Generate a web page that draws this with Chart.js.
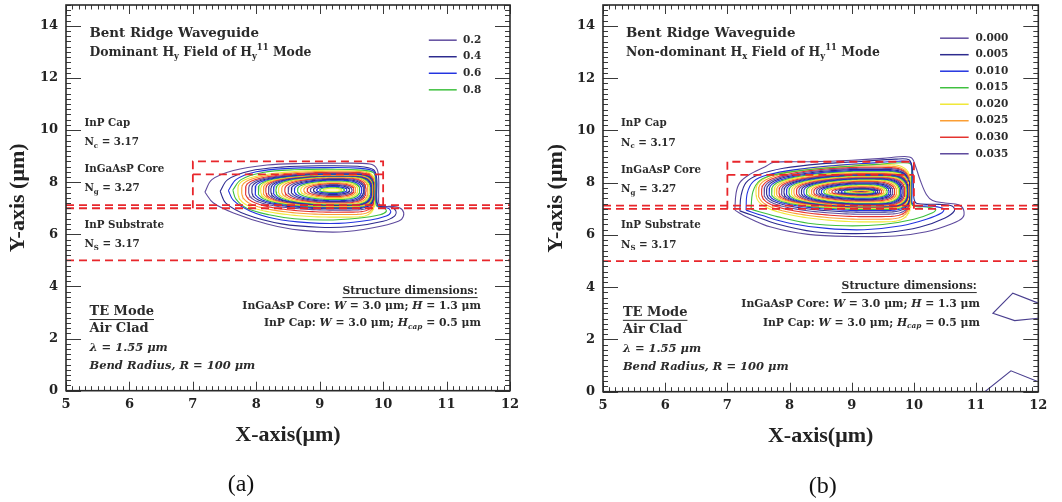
<!DOCTYPE html>
<html>
<head>
<meta charset="utf-8">
<script src="https://cdn.jsdelivr.net/npm/chart.js@4.4.1/dist/chart.umd.min.js"></script>
<style>
  html, body { margin: 0; padding: 0; background: #fff; }
  #wrap { position: relative; width: 1062px; height: 502px; }
  canvas { position: absolute; top: 0; }
  #chartA { left: 0; }
  #chartB { left: 531px; }
</style>
</head>
<body>
<div id="wrap">
  <canvas id="chartA" width="531" height="502"></canvas>
  <canvas id="chartB" width="531" height="502"></canvas>
</div>
<script>
// ─── Axes (µm) ───
const xRange = [5, 12];
const yRange = [0, 14.8];

// ─── Waveguide structure (µm) ───
const ridgeX = [7, 10];
const substrateTop = 7.0;
const slabTop = 7.12;
const coreTop = 8.3;
const capTop = 8.8;
const substrateBottom = 5.0;

// ─── Contour colour cycle, outer -> inner ───
const contourColors = ['#5f4b9e', '#2d2b8e', '#2334e0', '#3fc03f', '#f0e83a', '#fb9e34', '#e4332f'];
const structureRed = '#e8262b';

// ─── Legends ───
const legendLevelsA = ['0.2', '0.4', '0.6', '0.8'];
const legendLevelsB = ['0.000', '0.005', '0.010', '0.015', '0.020', '0.025', '0.030', '0.035'];

// ─── (a) dominant Hy: outer contours traced as [x, y] ───
const outerA = [
    [[7.19,7.62],[7.3,8.1],[7.64,8.45],[8.17,8.66],[8.7,8.72],[9.3,8.73],[9.79,8.7],[9.9,8.52],[9.93,8.1],[9.93,7.5],[9.95,7.12],[10.2,7.06],[10.3,6.95],[10.32,6.7],[10.24,6.5],[9.84,6.25],[9.32,6.09],[8.69,6.16],[8.17,6.4],[7.64,6.82],[7.32,7.21],[7.19,7.62]],
    [[7.43,7.65],[7.55,8.1],[7.9,8.43],[8.4,8.58],[9.0,8.63],[9.6,8.61],[9.85,8.48],[9.9,8.1],[9.9,7.4],[9.93,7.1],[10.12,7.05],[10.2,6.9],[10.18,6.7],[10.0,6.5],[9.5,6.3],[9.0,6.27],[8.4,6.4],[7.85,6.75],[7.52,7.2],[7.43,7.65]],
    [[7.56,7.68],[7.68,8.1],[8.0,8.4],[8.5,8.53],[9.1,8.56],[9.6,8.54],[9.85,8.42],[9.89,8.0],[9.89,7.4],[9.92,7.08],[10.08,7.0],[10.12,6.85],[10.05,6.7],[9.8,6.55],[9.3,6.42],[8.8,6.45],[8.3,6.6],[7.9,6.9],[7.64,7.3],[7.56,7.68]],
    [[7.63,7.7],[7.76,8.1],[8.1,8.37],[8.6,8.48],[9.2,8.5],[9.65,8.47],[9.85,8.36],[9.88,8.0],[9.88,7.4],[9.9,7.08],[10.02,7.0],[10.05,6.88],[9.95,6.75],[9.6,6.62],[9.1,6.55],[8.6,6.6],[8.2,6.75],[7.85,7.0],[7.68,7.35],[7.63,7.7]]
];
// ─── (a) inner contours: [left, right, bottom, top] ───
const innerA = [
    [7.71, 9.88, 6.66, 8.46], [7.77, 9.88, 6.76, 8.42], [7.83, 9.87, 6.85, 8.38],
    [7.88, 9.87, 6.93, 8.35], [7.93, 9.86, 6.98, 8.33], [7.98, 9.86, 7.01, 8.31],
    [8.03, 9.85, 7.03, 8.30], [8.07, 9.85, 7.05, 8.29], [8.11, 9.84, 7.06, 8.28],
    [8.15, 9.84, 7.07, 8.27], [8.19, 9.83, 7.08, 8.26], [8.23, 9.82, 7.10, 8.25],
    [8.27, 9.81, 7.11, 8.24], [8.31, 9.80, 7.13, 8.22], [8.35, 9.78, 7.15, 8.21],
    [8.40, 9.76, 7.17, 8.19], [8.45, 9.73, 7.20, 8.17], [8.50, 9.71, 7.23, 8.14],
    [8.55, 9.69, 7.26, 8.11], [8.60, 9.66, 7.29, 8.08], [8.65, 9.63, 7.33, 8.05],
    [8.70, 9.60, 7.37, 8.02], [8.75, 9.57, 7.41, 7.98], [8.80, 9.54, 7.45, 7.95],
    [8.85, 9.51, 7.49, 7.91], [8.90, 9.47, 7.53, 7.88], [8.95, 9.43, 7.57, 7.84],
    [9.00, 9.39, 7.60, 7.81], [9.05, 9.35, 7.63, 7.77]
];
const peakA = [9.2, 7.7];

// ─── (b) non-dominant Hx: outer contours traced as [x, y] ───
const outerB = [
    [[7.12,6.95],[7.14,7.6],[7.2,8.0],[7.35,8.3],[7.6,8.6],[7.75,8.78],[8.3,8.8],[9.0,8.86],[9.5,8.93],[9.85,9.0],[9.97,8.93],[10.03,8.6],[10.1,8.1],[10.2,7.55],[10.3,7.32],[10.5,7.22],[10.72,7.15],[10.8,6.95],[10.78,6.65],[10.6,6.42],[10.2,6.12],[9.7,5.96],[9.0,5.94],[8.3,6.02],[7.7,6.3],[7.3,6.7],[7.12,6.95]],
    [[7.2,6.92],[7.22,7.5],[7.3,8.0],[7.5,8.3],[7.9,8.55],[8.5,8.72],[9.2,8.82],[9.7,8.9],[9.92,8.88],[9.97,8.6],[9.99,8.0],[10.0,7.4],[10.05,7.2],[10.4,7.17],[10.62,7.1],[10.65,6.92],[10.5,6.65],[10.1,6.3],[9.6,6.1],[9.0,6.05],[8.4,6.12],[7.8,6.42],[7.4,6.75],[7.2,6.92]],
    [[7.3,6.95],[7.32,7.6],[7.42,8.05],[7.65,8.3],[8.1,8.5],[8.7,8.65],[9.3,8.75],[9.75,8.82],[9.94,8.78],[9.97,8.4],[9.97,7.6],[9.99,7.15],[10.3,7.1],[10.48,7.0],[10.45,6.85],[10.2,6.6],[9.8,6.35],[9.2,6.2],[8.6,6.25],[8.0,6.45],[7.55,6.75],[7.3,6.95]],
    [[7.38,6.98],[7.41,7.65],[7.52,8.08],[7.75,8.3],[8.2,8.47],[8.8,8.6],[9.4,8.7],[9.8,8.76],[9.95,8.7],[9.96,8.3],[9.96,7.5],[9.98,7.12],[10.2,7.07],[10.35,6.98],[10.3,6.85],[10.0,6.6],[9.5,6.4],[8.9,6.35],[8.3,6.45],[7.8,6.7],[7.5,6.9],[7.38,6.98]]
];
// ─── (b) inner contours: [left, right, bottom, top] ───
const innerB = [
    [7.46, 9.96, 6.50, 8.70], [7.50, 9.95, 6.60, 8.64], [7.55, 9.95, 6.70, 8.59],
    [7.59, 9.95, 6.79, 8.55], [7.63, 9.94, 6.87, 8.51], [7.67, 9.94, 6.93, 8.47],
    [7.71, 9.94, 6.97, 8.44], [7.75, 9.93, 7.00, 8.41], [7.79, 9.93, 7.02, 8.38],
    [7.83, 9.92, 7.03, 8.35], [7.87, 9.92, 7.04, 8.33], [7.91, 9.91, 7.05, 8.31],
    [7.95, 9.90, 7.06, 8.29], [7.99, 9.89, 7.07, 8.27], [8.03, 9.88, 7.08, 8.25],
    [8.07, 9.87, 7.10, 8.23], [8.11, 9.85, 7.12, 8.21], [8.15, 9.83, 7.14, 8.19],
    [8.19, 9.81, 7.16, 8.17], [8.23, 9.79, 7.18, 8.15], [8.27, 9.77, 7.20, 8.13],
    [8.31, 9.75, 7.23, 8.11], [8.35, 9.72, 7.26, 8.08], [8.39, 9.69, 7.29, 8.05],
    [8.43, 9.66, 7.32, 8.02], [8.47, 9.63, 7.35, 7.99], [8.51, 9.60, 7.38, 7.96],
    [8.55, 9.57, 7.41, 7.93], [8.59, 9.54, 7.44, 7.90], [8.63, 9.51, 7.47, 7.87],
    [8.68, 9.48, 7.49, 7.84], [8.73, 9.45, 7.51, 7.81], [8.78, 9.42, 7.53, 7.78],
    [8.83, 9.39, 7.55, 7.76], [8.88, 9.36, 7.57, 7.74], [8.93, 9.33, 7.59, 7.72],
    [8.97, 9.30, 7.60, 7.70], [9.01, 9.27, 7.61, 7.69], [9.05, 9.24, 7.62, 7.68],
    [9.08, 9.22, 7.63, 7.67], [9.11, 9.20, 7.64, 7.66]
];
const peakB = [9.15, 7.65];
// stray open contours near the lower-right corner of (b)
const strayB = [
    [[12.0,3.39],[11.59,3.77],[11.27,3.0],[11.62,2.72],[12.0,2.81]],
    [[11.13,-0.02],[11.56,0.80],[12.0,0.38]]
];

// ─── Annotation text ───
const headerA = ['Bent Ridge Waveguide', 'Dominant H_{y} Field of H_{y}^{11} Mode'];
const headerB = ['Bent Ridge Waveguide', 'Non-dominant H_{x} Field of H_{y}^{11} Mode'];
const layerLabels = ['InP Cap', 'N_{c} = 3.17', 'InGaAsP Core', 'N_{g} = 3.27', 'InP Substrate', 'N_{S} = 3.17'];
const dimLines = ['Structure dimensions:', 'InGaAsP Core: *W* = 3.0 μm; *H* = 1.3 μm', 'InP Cap: *W* = 3.0 μm; *H*_{*cap*} = 0.5 μm'];
const modeLines = ['TE Mode', 'Air Clad', '*λ = 1.55 μm*', '*Bend Radius, R = 100 μm*'];

const SERIF = '"DejaVu Serif", serif';

// ─── Helpers ───
function lineSet(points, color, extra) {
    return Object.assign({
        data: points,
        showLine: true,
        borderColor: color,
        borderWidth: 1.1,
        pointRadius: 0,
        fill: false,
        tension: 0
    }, extra || {});
}

// closed outline through the four read extents, squarer where the field hits the core walls
function outline(peak, ext, e) {
    const [L, R, B, T] = ext;
    const [cx, cy] = peak;
    const pts = [];
    const n = 140;
    for (let i = 0; i <= n; i++) {
        const t = (i / n) * Math.PI * 2;
        const c = Math.cos(t), s = Math.sin(t);
        const x = c >= 0 ? cx + (R - cx) * Math.pow(c, e.r) : cx - (cx - L) * Math.pow(-c, e.l);
        const y = s >= 0 ? cy + (T - cy) * Math.pow(s, e.t) : cy - (cy - B) * Math.pow(-s, e.b);
        pts.push({ x, y });
    }
    return pts;
}

function structureSets() {
    const dash = { borderColor: structureRed, borderWidth: 1.8, borderDash: [8, 5] };
    const seg = pts => lineSet(pts.map(([x, y]) => ({ x, y })), structureRed, dash);
    return [
        seg([[xRange[0], substrateBottom], [xRange[1], substrateBottom]]),
        seg([[xRange[0], slabTop], [xRange[1], slabTop]]),
        seg([[xRange[0], substrateTop], [xRange[1], substrateTop]]),
        seg([[ridgeX[0], substrateTop], [ridgeX[0], capTop], [ridgeX[1], capTop], [ridgeX[1], substrateTop]]),
        seg([[ridgeX[0], coreTop], [ridgeX[1], coreTop]])
    ];
}

function contourSets(outer, inner, peak, shape, innerFill) {
    const sets = [];
    outer.forEach((pts, k) => {
        sets.push(lineSet(pts.map(([x, y]) => ({ x, y })), contourColors[k % 7], { tension: 0.35 }));
    });
    const rIn = inner[inner.length - 1][1];
    const rWall = Math.max(...inner.map(r => r[1]));
    inner.forEach((ext, j) => {
        const k = outer.length + j;
        const f = (ext[1] - rIn) / (rWall - rIn);
        const extra = {};
        if (innerFill && j === inner.length - 1) {
            extra.fill = 'shape';
            extra.backgroundColor = innerFill;
        }
        sets.push(lineSet(outline(peak, ext, {
            l: shape.tip, r: 1 - 0.72 * f, t: 1 - shape.flat * f, b: 1 - shape.flat * f
        }), contourColors[k % 7], extra));
    });
    return sets;
}

// tiny markup: *italic*, _{sub}, ^{sup}
function parseRich(str, italic0) {
    const segs = [];
    let italic = italic0, shift = 0, buf = '';
    const flush = () => { if (buf) segs.push({ text: buf, italic, shift }); buf = ''; };
    for (let i = 0; i < str.length; i++) {
        const ch = str[i];
        if (ch === '*') { flush(); italic = !italic; }
        else if ((ch === '_' || ch === '^') && str[i + 1] === '{') { flush(); shift = ch === '_' ? 1 : -1; i++; }
        else if (ch === '}' && shift !== 0) { flush(); shift = 0; }
        else buf += ch;
    }
    flush();
    return segs;
}

function drawRich(ctx, str, x, y, size, opt) {
    const segs = parseRich(str, !!opt.italic);
    const fontOf = s => (s.italic ? 'italic ' : '') + 'bold ' + (s.shift ? size * 0.68 : size) + 'px ' + SERIF;
    let w = 0;
    segs.forEach(s => { ctx.font = fontOf(s); s.w = ctx.measureText(s.text).width; w += s.w; });
    let px = opt.align === 'right' ? x - w : x;
    const x0 = px;
    ctx.textBaseline = 'middle';
    ctx.textAlign = 'left';
    segs.forEach(s => {
        ctx.font = fontOf(s);
        const dy = s.shift === 1 ? size * 0.35 : s.shift === -1 ? -size * 0.4 : 0;
        ctx.fillText(s.text, px, y + dy);
        px += s.w;
    });
    if (opt.underline) {
        ctx.beginPath();
        ctx.lineWidth = 1;
        ctx.strokeStyle = ctx.fillStyle;
        ctx.moveTo(x0, y + size * 0.62);
        ctx.lineTo(x0 + w, y + size * 0.62);
        ctx.stroke();
    }
}

// ─── Plugins ───
const frameTicks = {
    id: 'frameTicks',
    afterDatasetsDraw(chart) {
        const { ctx, chartArea: a, scales: { x, y } } = chart;
        ctx.save();
        ctx.strokeStyle = '#3a3a3a';
        ctx.lineWidth = 1;
        ctx.beginPath();
        for (let i = 0; i <= 70; i++) {
            const px = Math.round(x.getPixelForValue(xRange[0] + i / 10)) + 0.5;
            const len = i % 10 === 0 ? 9 : 4.5;
            ctx.moveTo(px, a.bottom); ctx.lineTo(px, a.bottom - len);
            ctx.moveTo(px, a.top); ctx.lineTo(px, a.top + len);
        }
        for (let i = 0; i <= 74; i++) {
            const py = Math.round(y.getPixelForValue(i * 0.2)) + 0.5;
            const len = i % 10 === 0 ? 15 : 5;
            ctx.moveTo(a.left, py); ctx.lineTo(a.left + len, py);
            ctx.moveTo(a.right, py); ctx.lineTo(a.right - len, py);
        }
        ctx.stroke();
        ctx.lineWidth = 1.6;
        ctx.strokeStyle = '#2a2a2a';
        ctx.strokeRect(a.left, a.top, a.width, a.height);
        ctx.restore();
    }
};

const annotate = {
    id: 'annotate',
    afterDraw(chart, args, o) {
        const { ctx, scales: { x, y } } = chart;
        const X = v => x.getPixelForValue(v), Y = v => y.getPixelForValue(v);
        ctx.save();
        ctx.fillStyle = '#2b2b2b';
        o.header.forEach((t, i) => drawRich(ctx, t, X(5.37), Y([13.72, 12.98][i]), [13.4, 12.4][i], {}));
        const ly = [10.26, 9.52, 8.49, 7.75, 6.36, 5.62];
        layerLabels.forEach((t, i) => drawRich(ctx, t, X(5.29), Y(ly[i]), 10.3, {}));
        dimLines.forEach((t, i) => drawRich(ctx, t, X(o.dimX[i]), Y(o.dimY[i]), 10.8,
            { align: 'right', underline: i === 0 }));
        const my = [3.04, 2.37, 1.65, 0.96];
        modeLines.forEach((t, i) => drawRich(ctx, t, X(o.modeX), Y(my[i]), i < 2 ? 13 : 11.5,
            { underline: i === 0 }));
        // legend
        const lg = o.legend;
        o.levels.forEach((lab, i) => {
            const py = Y(lg.y0 - i * lg.dy);
            ctx.beginPath();
            ctx.lineWidth = 1.5;
            ctx.strokeStyle = contourColors[i % 7];
            ctx.moveTo(X(lg.x1), py); ctx.lineTo(X(lg.x2), py);
            ctx.stroke();
            ctx.fillStyle = '#2b2b2b';
            ctx.font = 'bold 10.5px ' + SERIF;
            ctx.textBaseline = 'middle';
            ctx.textAlign = 'left';
            ctx.fillText(lab, X(lg.tx), py);
        });
        // caption
        ctx.font = '24px "Liberation Serif", serif';
        ctx.fillStyle = '#111';
        ctx.textAlign = 'center';
        ctx.textBaseline = 'middle';
        ctx.fillText(o.caption, o.capX, o.capY);
        ctx.restore();
    }
};

function makePanel(id, p) {
    const tickFont = { family: SERIF, weight: 'bold', size: 13 };
    const titleFont = { family: '"Liberation Serif", serif', weight: 'bold', size: 22 };
    return new Chart(document.getElementById(id), {
        type: 'scatter',
        data: { datasets: structureSets().concat(p.sets) },
        options: {
            responsive: false,
            animation: false,
            events: [],
            layout: { padding: { left: 0, right: p.padRight, top: 5, bottom: p.padBottom } },
            scales: {
                x: {
                    type: 'linear', min: xRange[0], max: xRange[1],
                    afterFit: s => { s.height = p.xHeight; s.paddingLeft = 0; s.paddingRight = 0; },
                    grid: { display: false, drawTicks: false },
                    border: { display: false },
                    ticks: { stepSize: 1, padding: 6, color: '#222', font: tickFont, maxRotation: 0 },
                    title: { display: true, text: 'X-axis(μm)', color: '#222', font: titleFont,
                             padding: { top: 0, bottom: p.xTitlePad } }
                },
                y: {
                    type: 'linear', min: yRange[0], max: yRange[1],
                    afterFit: s => { s.width = p.yWidth; s.paddingTop = 0; s.paddingBottom = 0; },
                    grid: { display: false, drawTicks: false },
                    border: { display: false },
                    ticks: { stepSize: 2, includeBounds: false, padding: 8, color: '#222', font: tickFont },
                    title: { display: true, text: 'Y-axis (μm)', color: '#222', font: titleFont,
                             padding: { top: p.yTitlePad, bottom: 0 } }
                }
            },
            plugins: {
                legend: { display: false },
                tooltip: { enabled: false },
                annotate: p.annotate
            }
        },
        plugins: [frameTicks, annotate]
    });
}

makePanel('chartA', {
    sets: contourSets(outerA, innerA, peakA, { tip: 1.1, flat: 0.35 }, '#fff9c8'),
    padRight: 21, padBottom: 49.3, xHeight: 62, yWidth: 66, xTitlePad: 4.5, yTitlePad: 4.8,
    annotate: {
        header: headerA,
        dimX: [11.49, 11.54, 11.54], dimY: [3.83, 3.23, 2.59],
        modeX: 5.37,
        levels: legendLevelsA,
        legend: { x1: 10.72, x2: 11.16, tx: 11.26, y0: 13.45, dy: 0.635 },
        caption: '(a)', capX: 241, capY: 485
    }
});

makePanel('chartB', {
    sets: contourSets(outerB, innerB, peakB, { tip: 1.25, flat: 0.3 }, null).concat(
        strayB.map(c => lineSet(c.map(([x, y]) => ({ x, y })), '#4a3f8f', {}))),
    padRight: 23.7, padBottom: 49.3, xHeight: 61, yWidth: 72, xTitlePad: 3, yTitlePad: 11.8,
    annotate: {
        header: headerB,
        dimX: [11.01, 11.06, 11.06], dimY: [4.05, 3.35, 2.64],
        modeX: 5.32,
        levels: legendLevelsB,
        legend: { x1: 10.42, x2: 10.88, tx: 10.99, y0: 13.53, dy: 0.632 },
        caption: '(b)', capX: 291.7, capY: 486.7
    }
});
</script>
</body>
</html>
